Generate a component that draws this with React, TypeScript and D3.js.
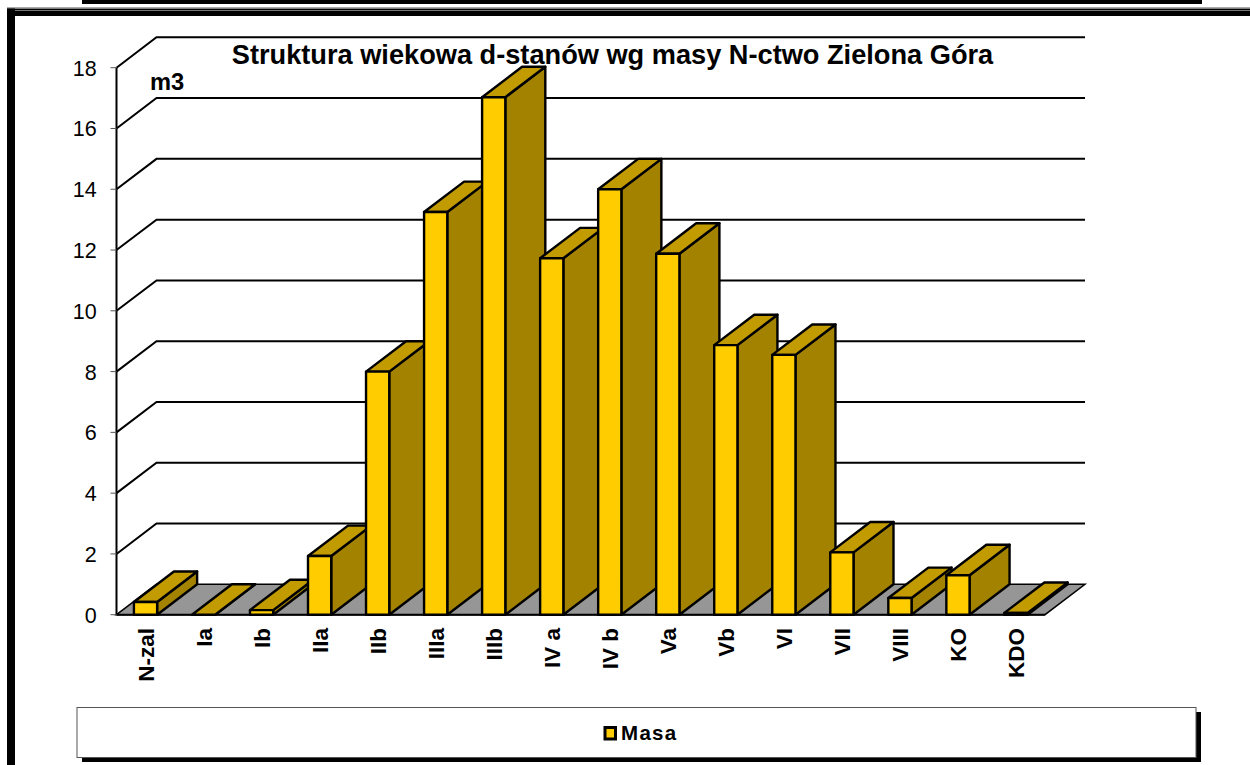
import * as d3 from 'd3'

const categories = ['N-zal', 'Ia', 'Ib', 'IIa', 'IIb', 'IIIa', 'IIIb', 'IV a', 'IV b', 'Va', 'Vb', 'VI', 'VII', 'VIII', 'KO', 'KDO']
const masa = [0.42, 0, 0.15, 1.93, 8, 13.25, 17.03, 11.73, 14, 11.88, 8.87, 8.55, 2.05, 0.55, 1.3, 0.06]
const yTicks = [0, 2, 4, 6, 8, 10, 12, 14, 16, 18]

const title = 'Struktura wiekowa d-stanów wg masy N-ctwo Zielona Góra'
const FONT = '"Liberation Sans", Arial, sans-serif'

const FRONT = '#FFCC00'
const TOP = '#C29B00'
const SIDE = '#A38200'
const FLOOR = '#969696'

// 3D offset of the back wall
const depthX = 40
const depthY = -30.4

const x = d3.scaleBand<string>().domain(categories).range([116.5, 1045]).paddingInner(0.6).paddingOuter(0.3)
const y = d3.scaleLinear().domain([0, 18]).range([614.7, 67.7])

const poly = (pts: [number, number][]) => d3.line()(pts) + 'Z'

export default function App() {
  const x0 = 116.5
  const x1 = 1045
  const y0 = y(0)
  const bw = x.bandwidth()

  return (
    <svg width={1250} height={765} style={{ position: 'absolute', left: 0, top: 0, background: '#fff' }} fontFamily={FONT}>
      {/* outer frame */}
      <rect x={82} y={0} width={1120} height={4} fill="#000" />
      <rect x={7} y={7} width={1243} height={1} fill="#aaa" />
      <rect x={7} y={8.5} width={1243} height={7.5} fill="#000" />
      <rect x={7} y={10} width={1243} height={1} fill="#777" />
      <rect x={7} y={8.5} width={8} height={756.5} fill="#000" />

      {/* floor */}
      <path
        d={poly([[x0, y0], [x0 + depthX, y0 + depthY], [x1 + depthX, y0 + depthY], [x1, y0]])}
        fill={FLOOR}
        stroke="#000"
        strokeWidth={1.5}
      />

      {/* gridlines */}
      {yTicks.slice(1).map(t => (
        <path
          key={t}
          d={d3.line()([[x0, y(t)], [x0 + depthX, y(t) + depthY], [x1 + depthX, y(t) + depthY]]) as string}
          fill="none"
          stroke="#000"
          strokeWidth={2}
        />
      ))}

      {/* y axis */}
      <line x1={x0} x2={x0} y1={y(18)} y2={y0} stroke="#000" strokeWidth={2} />
      <line x1={x0} x2={x1} y1={y0} y2={y0} stroke="#000" strokeWidth={2} />
      {yTicks.map(t => (
        <g key={t}>
          <line x1={x0 - 6} x2={x0} y1={y(t)} y2={y(t)} stroke="#555" strokeWidth={1} />
          <text x={96.7} y={y(t) + 8} fontSize={21.5} textAnchor="end" fill="#000">
            {t}
          </text>
        </g>
      ))}

      {/* bars */}
      {categories.map((c, i) => {
        const l = x(c) as number
        const r = l + bw
        const t = y(masa[i])
        return (
          <g key={c} stroke="#000" strokeWidth={2.4} strokeLinejoin="round">
            <path d={poly([[r, t], [r + depthX, t + depthY], [r + depthX, y0 + depthY], [r, y0]])} fill={SIDE} />
            <path d={poly([[l, t], [l + depthX, t + depthY], [r + depthX, t + depthY], [r, t]])} fill={TOP} />
            <rect x={l} y={t} width={bw} height={y0 - t} fill={FRONT} />
          </g>
        )
      })}

      {/* category labels */}
      {categories.map(c => {
        const cx = (x(c) as number) + bw / 2
        return (
          <text
            key={c}
            transform={`translate(${cx + 8.5},628) rotate(-90)`}
            textAnchor="end"
            fontSize={22.5}
            fontWeight="bold"
            fill="#000"
          >
            {c}
          </text>
        )
      })}

      {/* titles */}
      <text x={612.5} y={63.5} textAnchor="middle" fontSize={27.2} fontWeight="bold" fill="#000">
        {title}
      </text>
      <text x={150} y={90} fontSize={23.7} fontWeight="bold" fill="#000">
        m3
      </text>

      {/* legend */}
      <rect x={82} y={712} width={1119} height={50} fill="#000" />
      <rect x={77} y={707.5} width={1119} height={50} fill="#fff" stroke="#555" strokeWidth={1} />
      <rect x={605} y={727.5} width={10.5} height={11.5} fill={FRONT} stroke="#000" strokeWidth={3} />
      <text x={621} y={740} fontSize={20.5} letterSpacing={1.3} fontWeight="bold" fill="#000">
        Masa
      </text>
    </svg>
  )
}
